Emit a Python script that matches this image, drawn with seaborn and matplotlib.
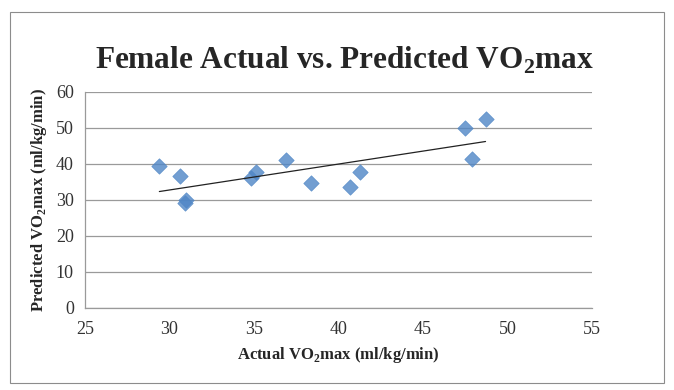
import numpy as np
import pandas as pd
import matplotlib
matplotlib.use("Agg")
import matplotlib.pyplot as plt
import seaborn as sns
from matplotlib.patches import Rectangle

# values
actual = [29.4, 30.6, 30.9, 31.0, 34.8, 35.1, 36.9, 38.4, 40.7, 41.3, 47.5, 47.9, 48.7]
predicted = [39.4, 36.7, 29.2, 30.1, 36.0, 37.8, 41.1, 34.7, 33.6, 37.9, 49.9, 41.5, 52.6]
x_ticks = [25, 30, 35, 40, 45, 50, 55]
y_ticks = [0, 10, 20, 30, 40, 50, 60]

df = pd.DataFrame({"actual": actual, "predicted": predicted})

sns.set_style("white")
plt.rcParams['font.family'] = ['Liberation Serif', 'DejaVu Serif']
plt.rcParams['mathtext.fontset'] = 'custom'
plt.rcParams['mathtext.bf'] = 'Liberation Serif:bold'
plt.rcParams['mathtext.rm'] = 'Liberation Serif'

fig = plt.figure(figsize=(6.74, 3.9), dpi=100)
ax = fig.add_axes([85 / 674, 1 - 308 / 390, (592 - 85) / 674, (308 - 92) / 390])

# outer chart border
fig.patches.append(Rectangle((10 / 674, 1 - 383 / 390), 654 / 674, 371 / 390,
                             transform=fig.transFigure, fill=False,
                             edgecolor='#8c8c8c', linewidth=0.8))

sns.regplot(data=df, x="actual", y="predicted", ax=ax, ci=None,
            marker='D',
            scatter_kws=dict(color='#4f86c6', s=62, edgecolors='#4f86c6', linewidths=0.5, zorder=3),
            line_kws=dict(color='#222222', linewidth=0.9, zorder=4))

ax.set_xlim(25, 55)
ax.set_ylim(0, 60)
ax.set_xticks(x_ticks)
ax.set_yticks(y_ticks)
ax.yaxis.grid(True, color='#9a9a9a', linewidth=0.9)
ax.set_axisbelow(True)
for side in ['top', 'right']:
    ax.spines[side].set_visible(False)
for side in ['left', 'bottom']:
    ax.spines[side].set_color('#9a9a9a')
    ax.spines[side].set_linewidth(0.9)
ax.tick_params(axis='x', direction='inout', length=5, color='#9a9a9a',
               labelsize=13, labelcolor='#333333', pad=7)
ax.tick_params(axis='y', direction='out', length=5, color='#9a9a9a',
               labelsize=13, labelcolor='#333333', pad=3)

ax.set_xlabel("Actual VO$_\\mathbf{2}$max (ml/kg/min)", fontsize=12, fontweight='bold', labelpad=5)
ax.set_ylabel("Predicted VO$_\\mathbf{2}$max (ml/kg/min)", fontsize=12, fontweight='bold', labelpad=5)

fig.text(345 / 674, 1 - 60 / 390, "Female Actual vs. Predicted VO$_\\mathbf{2}$max",
         ha='center', va='center', fontsize=22.5, fontweight='bold')

fig.savefig("out.png", dpi=100)
